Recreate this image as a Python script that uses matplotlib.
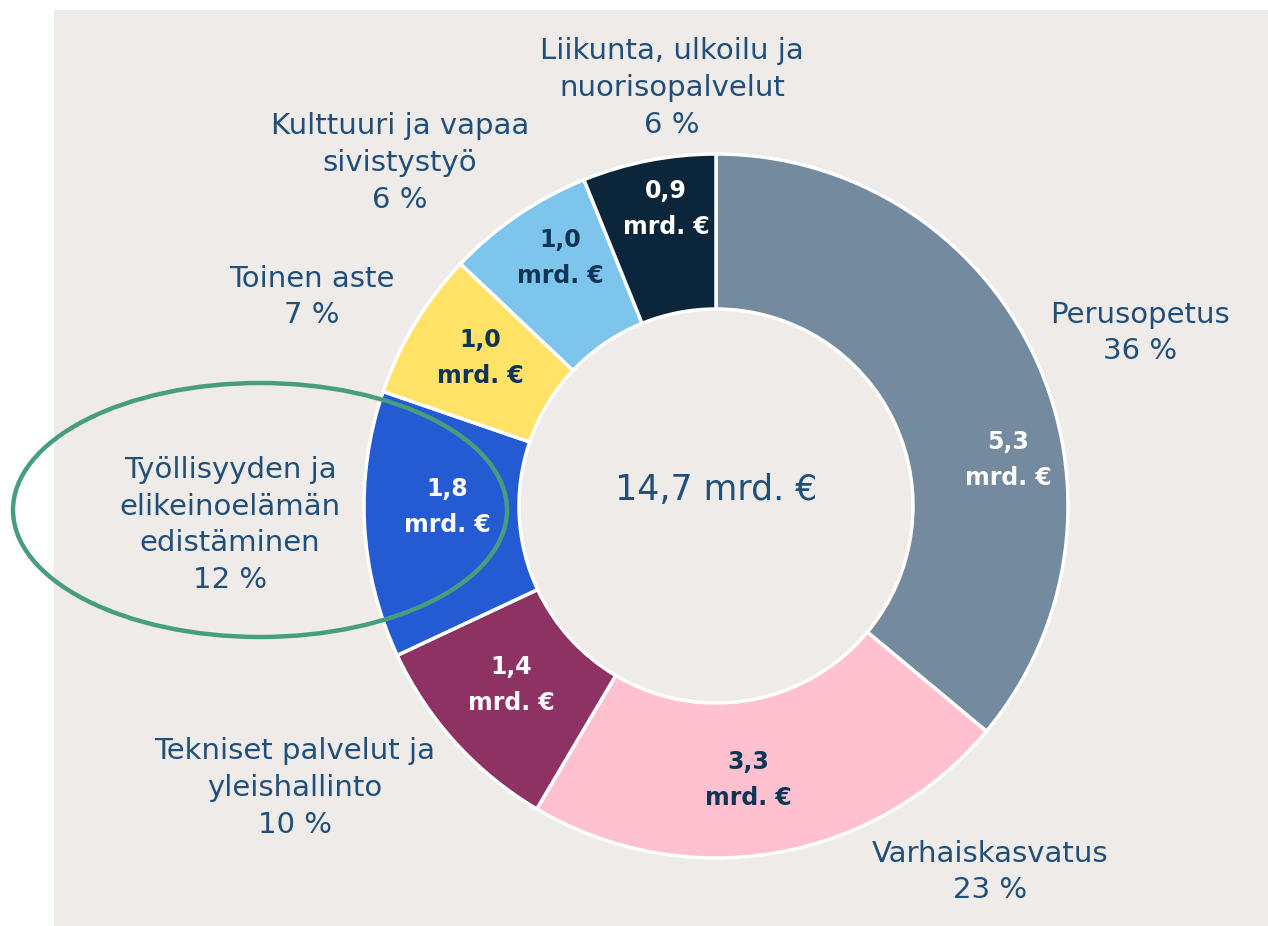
import matplotlib
matplotlib.use("Agg")
import matplotlib.pyplot as plt
from matplotlib.patches import Rectangle, Ellipse

# ---- data ----
categories = ["Perusopetus", "Varhaiskasvatus", "Tekniset palvelut ja\nyleishallinto",
              "Työllisyyden ja\nelikeinoelämän\nedistäminen", "Toinen aste",
              "Kulttuuri ja vapaa\nsivistystyö", "Liikunta, ulkoilu ja\nnuorisopalvelut"]
values = [5.3, 3.3, 1.4, 1.8, 1.0, 1.0, 0.9]
percents = ["36 %", "23 %", "10 %", "12 %", "7 %", "6 %", "6 %"]
value_labels = ["5,3\nmrd. €", "3,3\nmrd. €", "1,4\nmrd. €", "1,8\nmrd. €",
                "1,0\nmrd. €", "1,0\nmrd. €", "0,9\nmrd. €"]
total_label = "14,7 mrd. €"

colors = ["#738A9F", "#FFC0CF", "#8E3163", "#245BD2", "#FFE266", "#7EC5EE", "#0B263A"]
inner_text_colors = ["white", "#0E3553", "white", "white", "#0E3553", "#0E3553", "white"]

W, H = 1268, 926
fig = plt.figure(figsize=(W / 100, H / 100), dpi=100)
ax = fig.add_axes([0, 0, 1, 1])
ax.set_xlim(0, W)
ax.set_ylim(0, H)
ax.axis("off")

def Y(y):
    return H - y

FONT = ["DejaVu Sans"]
TXT = "#1F4F7A"

ax.add_patch(Rectangle((54, Y(926)), W - 54, 926 - 10, facecolor="#EEEBE8",
                       edgecolor="none", zorder=0))

cx, cy, R, r_in = 716, 506, 352, 197
ax.pie(values, colors=colors, startangle=90, counterclock=False,
       center=(cx, Y(cy)), radius=R,
       wedgeprops=dict(width=R - r_in, edgecolor="white", linewidth=2.5))
ax.set_xlim(0, W)
ax.set_ylim(0, H)
ax.set_aspect("equal")

# inner value labels (pixel positions)
inner_pos = [(1008, 460), (748, 780), (511, 685), (447, 507),
             (480, 358), (560, 258), (666, 209)]
for (x, y), lab, c in zip(inner_pos, value_labels, inner_text_colors):
    ax.text(x, Y(y), lab, ha="center", va="center", fontsize=17,
            fontweight="bold", color=c, family=FONT, linespacing=1.6, zorder=5)

# outer labels
outer_pos = [(1140, 333), (990, 872), (295, 788), (230, 525),
             (312, 297), (400, 163), (672, 88)]
for (x, y), cat, pct in zip(outer_pos, categories, percents):
    ax.text(x, Y(y), cat + "\n" + pct, ha="center", va="center", fontsize=21,
            color=TXT, family=FONT, linespacing=1.4, zorder=5)

ax.text(cx, Y(490), total_label, ha="center", va="center", fontsize=25,
        color=TXT, family=FONT, zorder=5)

ax.add_patch(Ellipse((260, Y(510)), 494, 254, angle=0, facecolor="none",
                     edgecolor="#479E7E", linewidth=3.2, zorder=6))

fig.savefig("out.png", dpi=100, facecolor="white")
